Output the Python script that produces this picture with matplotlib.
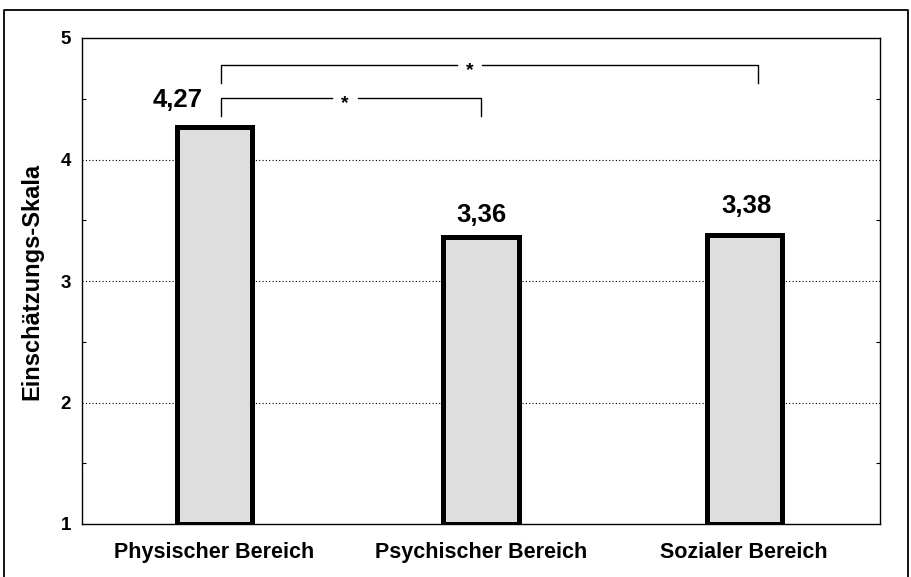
import matplotlib
matplotlib.use("Agg")
import matplotlib.pyplot as plt
from matplotlib.lines import Line2D
import numpy as np

categories = ["Physischer Bereich", "Psychischer Bereich", "Sozialer Bereich"]
values = [4.27, 3.36, 3.38]
value_labels = ["4,27", "3,36", "3,38"]
yticks = [1, 2, 3, 4, 5]
ylabel = "Einschätzungs-Skala"

plt.rcParams['font.family'] = ['Liberation Sans', 'DejaVu Sans']

W, H = 912, 577
fig = plt.figure(figsize=(W / 100, H / 100), dpi=100)
ax = fig.add_axes([82 / W, 1 - 524 / H, 798 / W, 486 / H])

xpos = [0.166, 0.5, 0.8296]
width = 0.094
ax.bar(xpos, [v - 1 for v in values], bottom=1, width=width,
       color="#dedede", edgecolor="black", linewidth=3.6, zorder=3)

ax.set_xlim(0, 1)
ax.set_ylim(1, 5)
ax.set_yticks(yticks)
ax.set_yticklabels([str(t) for t in yticks], fontsize=13.5, fontweight='bold')
ax.set_yticks([1.5, 2.5, 3.5, 4.5], minor=True)
ax.set_xticks(xpos)
ax.set_xticklabels(categories, fontsize=15.5, fontweight='bold')
ax.tick_params(axis='y', which='major', length=0, pad=8)
ax.tick_params(axis='y', which='minor', length=3, direction='in', right=True, width=0.8)
ax.tick_params(axis='x', length=0, pad=13)
for t in [2, 3, 4]:
    ax.axhline(t, color='black', linestyle=(0, (1, 2)), linewidth=0.8, zorder=1)
for s in ax.spines.values():
    s.set_linewidth(1.0)
ax.set_ylabel(ylabel, fontsize=17, fontweight='bold', labelpad=12)

label_dx = [-37, 0, 2]
label_dy = [14, 11, 16]
for x, v, lab, dx, dy in zip(xpos, values, value_labels, label_dx, label_dy):
    ax.annotate(lab, (x, v), xytext=(dx * 0.72, dy), textcoords='offset points',
                ha='center', va='baseline', fontsize=18.5, fontweight='bold')

def bracket(x1, x2, ytop, ybot, xstar):
    gap = 0.0157
    ax.plot([x1, x1, xstar - gap], [ybot, ytop, ytop], color='black', lw=1, clip_on=False)
    ax.plot([xstar + gap, x2, x2], [ytop, ytop, ybot], color='black', lw=1, clip_on=False)
    ax.annotate("*", (xstar, ytop), xytext=(0, -7.5), textcoords='offset points',
                ha='center', va='baseline', fontsize=14, fontweight='bold')

bracket(0.174, 0.5, 4.506, 4.358, 0.3296)
bracket(0.174, 0.847, 4.778, 4.63, 0.486)

fx = lambda px: px / W
fy = lambda py: 1 - py / H
fig.add_artist(Line2D([fx(4), fx(4), fx(908), fx(908)], [fy(577), fy(10), fy(10), fy(577)],
                      transform=fig.transFigure, color='black', linewidth=1.3))

fig.savefig("out.png", dpi=100)
